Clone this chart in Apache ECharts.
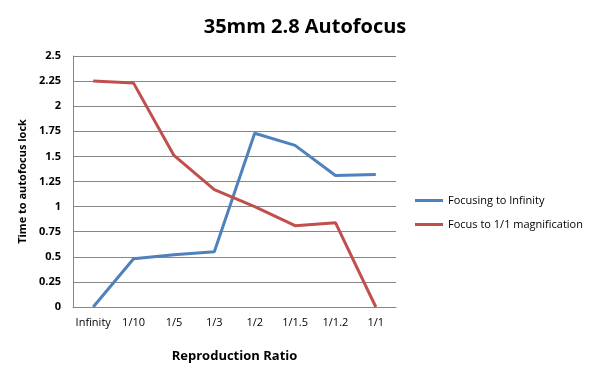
<!DOCTYPE html>
<html><head><meta charset="utf-8">
<script src="https://cdn.jsdelivr.net/npm/echarts@6/dist/echarts.min.js"></script>
<style>html,body{margin:0;padding:0;background:#fff}#c{width:600px;height:385px}</style>
</head><body><div id="c"></div>
<script>
const categories = ["Infinity","1/10","1/5","1/3","1/2","1/1.5","1/1.2","1/1"];
const focusingToInfinity = [0, 0.48, 0.52, 0.55, 1.73, 1.61, 1.31, 1.32];
const focusTo11 = [2.25, 2.23, 1.51, 1.17, 1.0, 0.81, 0.84, 0];
const yTicks = [0, 0.25, 0.5, 0.75, 1, 1.25, 1.5, 1.75, 2, 2.25, 2.5];

const chart = echarts.init(document.getElementById('c'), null, {renderer: 'canvas'});
const font = 'Open Sans, Noto Sans, sans-serif';
chart.setOption({
  animation: false,
  title: {text: '35mm 2.8 Autofocus', left: 300, top: 12, textAlign: 'center',
    textStyle: {fontFamily: font, fontSize: 20, fontWeight: 'bold', color: '#000'}},
  grid: {left: 73, top: 56, width: 323, height: 251, containLabel: false},
  legend: {
    orient: 'vertical', left: 410, top: 190, itemGap: 13, itemWidth: 28, itemHeight: 3,
    icon: 'rect',
    textStyle: {fontFamily: font, fontSize: 11, color: '#000'},
    data: ['Focusing to Infinity', 'Focus to 1/1 magnification']
  },
  xAxis: {
    type: 'category', data: categories, boundaryGap: true,
    name: 'Reproduction Ratio', nameLocation: 'middle', nameGap: 43,
    nameTextStyle: {fontFamily: font, fontSize: 13, fontWeight: 'bold', color: '#000'},
    axisLine: {lineStyle: {color: '#868686'}},
    axisTick: {show: false},
    axisLabel: {fontFamily: font, fontSize: 11, color: '#000', margin: 10, interval: 0}
  },
  yAxis: {
    type: 'value', min: yTicks[0], max: yTicks[yTicks.length-1], interval: 0.25,
    name: 'Time to autofocus lock', nameLocation: 'middle', nameGap: 36,
    nameTextStyle: {fontFamily: font, fontSize: 11, fontWeight: 'bold', color: '#000'},
    axisLine: {show: true, lineStyle: {color: '#868686'}},
    axisTick: {show: false},
    splitLine: {lineStyle: {color: '#868686'}},
    axisLabel: {fontFamily: font, fontSize: 11, fontWeight: 'bold', color: '#000', margin: 12}
  },
  series: [
    {name: 'Focusing to Infinity', type: 'line', data: focusingToInfinity, symbol: 'none',
      lineStyle: {color: '#4F81BD', width: 3}, itemStyle: {color: '#4F81BD'}},
    {name: 'Focus to 1/1 magnification', type: 'line', data: focusTo11, symbol: 'none',
      lineStyle: {color: '#C0504D', width: 3}, itemStyle: {color: '#C0504D'}}
  ]
});
</script></body></html>
